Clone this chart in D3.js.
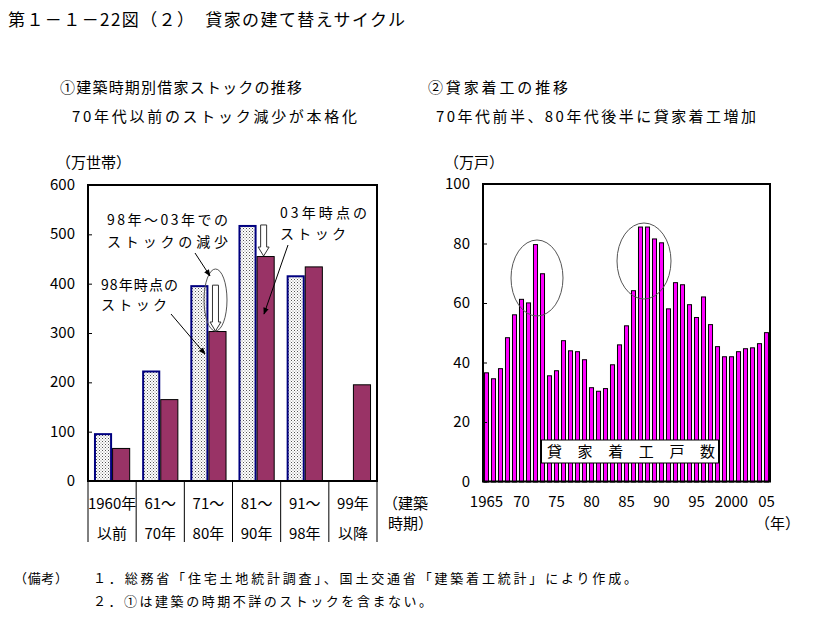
<!DOCTYPE html>
<html><head><meta charset="utf-8">
<script src="https://cdn.jsdelivr.net/npm/d3@7"></script>
<style>body{margin:0;background:#fff} text{font-family:"Noto Sans CJK JP","Noto Sans",sans-serif;fill:#000}</style>
</head><body><svg id="c" width="832" height="617"></svg>
<script>
// ---- data: left chart (建築時期別借家ストック, 万世帯)
const periodLine1 = ["1960年","61～","71～","81～","91～","99年"];
const periodLine2 = ["以前","70年","80年","90年","98年","以降"];
const stock1998 = [97, 224, 397, 519, 417, null];
const stock2003 = [67, 166, 304, 456, 435, 196];
const leftTicks = [0, 100, 200, 300, 400, 500, 600];

// ---- data: right chart (貸家着工戸数, 万戸)
const years = [1965,1966,1967,1968,1969,1970,1971,1972,1973,1974,1975,1976,1977,1978,1979,1980,
  1981,1982,1983,1984,1985,1986,1987,1988,1989,1990,1991,1992,1993,1994,1995,1996,1997,1998,1999,
  2000,2001,2002,2003,2004,2005];
const starts = [36.7,34.7,38.1,48.5,56.2,61.4,60.2,79.8,70.0,35.7,37.4,47.5,44.1,43.8,41.1,31.7,
  30.5,31.4,39.4,46.1,52.5,64.3,85.7,85.7,81.7,80.4,58.2,67.0,66.3,59.6,55.3,62.2,52.9,45.5,42.1,
  42.1,43.8,44.8,45.1,46.5,50.2];
const rightTicks = [0, 20, 40, 60, 80, 100];
const yearTicks = [1965,1970,1975,1980,1985,1990,1995,2000,2005];
const yearTickLabels = ["1965","70","75","80","85","90","95","2000","05"];

const svg = d3.select("#c");
function txt(x, y, s, opt = {}) {
  const t = svg.append("text").attr("x", x).attr("y", y).text(s)
    .attr("font-size", opt.size || 14)
    .attr("text-anchor", opt.anchor || "start");
  if (opt.len) t.attr("textLength", opt.len).attr("lengthAdjust", "spacing");
  return t;
}

// pattern for 1998 bars
const defs = svg.append("defs");
const pat = defs.append("pattern").attr("id", "dots").attr("patternUnits", "userSpaceOnUse")
  .attr("width", 3).attr("height", 3);
pat.append("rect").attr("width", 3).attr("height", 3).attr("fill", "#fff");
pat.append("rect").attr("x", 0).attr("y", 0).attr("width", 1).attr("height", 1).attr("fill", "#555");
pat.append("rect").attr("x", 1.5).attr("y", 1.5).attr("width", 1).attr("height", 1).attr("fill", "#888");
defs.append("marker").attr("id", "ah").attr("viewBox", "0 0 10 10").attr("refX", 9).attr("refY", 5)
  .attr("markerWidth", 7).attr("markerHeight", 7).attr("orient", "auto")
  .append("path").attr("d", "M0,1 L10,5 L0,9 Z").attr("fill", "#000");

// ---- titles
txt(8, 26, "第１－１－22図（２）　貸家の建て替えサイクル", {size: 17, len: 397});
txt(60, 93, "①建築時期別借家ストックの推移", {size: 15, len: 242});
txt(72, 122, "70年代以前のストック減少が本格化", {size: 15, len: 285});
txt(428, 93, "②貸家着工の推移", {size: 15, len: 140});
txt(436, 122, "70年代前半、80年代後半に貸家着工増加", {size: 15, len: 320});

// ---- left chart
const L = {x0: 88, x1: 377, y0: 481, y1: 185};
const xL = d3.scaleBand().domain(periodLine1).range([L.x0, L.x1]);
const xL2 = d3.scaleBand().domain(["1998", "2003"]).range([0, xL.bandwidth()]).paddingOuter(0.33);
const yL = d3.scaleLinear().domain([0, 600]).range([L.y0, L.y1]);

periodLine1.forEach((p, i) => {
  if (stock1998[i] != null) {
    svg.append("rect").attr("x", xL(p) + xL2("1998") + 1).attr("y", yL(stock1998[i]) + 1)
      .attr("width", xL2.bandwidth() - 2).attr("height", yL(0) - yL(stock1998[i]) - 1)
      .attr("fill", "url(#dots)").attr("stroke", "#000080").attr("stroke-width", 2);
  }
  if (stock2003[i] != null) {
    svg.append("rect").attr("x", xL(p) + xL2("2003") + 0.5).attr("y", yL(stock2003[i]) + 0.5)
      .attr("width", xL2.bandwidth() - 1).attr("height", yL(0) - yL(stock2003[i]))
      .attr("fill", "#993366").attr("stroke", "#000").attr("stroke-width", 1);
  }
});

// frame + axis
const yAxL = svg.append("g").attr("transform", `translate(${L.x0},0)`)
  .call(d3.axisRight(yL).tickValues(leftTicks).tickSize(4).tickFormat(""));
yAxL.select(".domain").remove();
yAxL.selectAll("line").attr("stroke", "#000");
leftTicks.forEach(v => txt(L.x0 - 13, yL(v) + 5, String(v), {size: 15, anchor: "end"}));
svg.append("rect").attr("x", L.x0).attr("y", L.y1).attr("width", L.x1 - L.x0).attr("height", L.y0 - L.y1)
  .attr("fill", "none").attr("stroke", "#000").attr("stroke-width", 2);
// category dividers below axis
const bounds = periodLine1.map(p => xL(p)).concat([L.x1]);
bounds.forEach(bx => svg.append("line").attr("x1", bx).attr("x2", bx).attr("y1", L.y0).attr("y2", 542)
  .attr("stroke", "#000").attr("stroke-width", 1));
periodLine1.forEach((p, i) => {
  const cx = xL(p) + xL.bandwidth() / 2;
  txt(cx, 509, p, {size: 15, anchor: "middle"});
  txt(cx, 539, periodLine2[i], {size: 15, anchor: "middle"});
});
txt(383, 509, "（建築", {size: 15});
txt(388, 529, "時期）", {size: 15});
txt(56, 168, "（万世帯）", {size: 15});

// hollow down arrows (decrease from 1998 to 2003)
function hollowArrow(cx, yTop, yBot, sw, hw, hl) {
  const d = `M${cx - sw},${yTop} L${cx + sw},${yTop} L${cx + sw},${yBot - hl} L${cx + hw},${yBot - hl} L${cx},${yBot} L${cx - hw},${yBot - hl} L${cx - sw},${yBot - hl} Z`;
  svg.append("path").attr("d", d).attr("fill", "#fff").attr("stroke", "#333").attr("stroke-width", 1);
}
[2, 3].forEach(i => {
  const p = periodLine1[i];
  const cx = xL(p) + xL2("2003") + xL2.bandwidth() / 2 - 2;
  hollowArrow(cx, yL(stock1998[i]), yL(stock2003[i]), 3, 5.5, 9);
});
// ellipse around 71~ arrow
svg.append("ellipse").attr("cx", 215.5).attr("cy", 300).attr("rx", 11.5).attr("ry", 31)
  .attr("fill", "none").attr("stroke", "#555").attr("stroke-width", 1);
// annotations
txt(107, 225, "98年～03年での", {size: 14, len: 121});
txt(107, 247, "ストックの減少", {size: 14, len: 121});
txt(101, 290, "98年時点の", {size: 14, len: 77});
txt(101, 310, "ストック", {size: 14, len: 66});
txt(280, 218, "03年時点の", {size: 14, len: 87});
txt(280, 239, "ストック", {size: 14, len: 66});
[[195, 253, 210, 276], [171, 314, 205, 354], [288, 245, 264, 314]].forEach(a =>
  svg.append("line").attr("x1", a[0]).attr("y1", a[1]).attr("x2", a[2]).attr("y2", a[3])
    .attr("stroke", "#000").attr("stroke-width", 1).attr("marker-end", "url(#ah)"));

// ---- right chart
const R = {x0: 483, x1: 770, y0: 481.5, y1: 184};
const xR = d3.scaleBand().domain(years).range([R.x0, R.x1]).paddingInner(0.28).paddingOuter(0.14);
const yR = d3.scaleLinear().domain([0, 100]).range([R.y0, R.y1]);
svg.append("g").selectAll("rect").data(years).join("rect")
  .attr("x", (d) => xR(d) + 0.5).attr("y", (d, i) => yR(starts[i]) + 0.5)
  .attr("width", xR.bandwidth() - 1).attr("height", (d, i) => R.y0 - yR(starts[i]))
  .attr("fill", "#ff00ff").attr("stroke", "#000").attr("stroke-width", 1);
const yAxR = svg.append("g").attr("transform", `translate(${R.x0},0)`)
  .call(d3.axisRight(yR).tickValues(rightTicks).tickSize(4).tickFormat(""));
yAxR.select(".domain").remove();
yAxR.selectAll("line").attr("stroke", "#000");
rightTicks.forEach(v => txt(R.x0 - 13, yR(v) + 5, String(v), {size: 15, anchor: "end"}));
svg.append("rect").attr("x", R.x0).attr("y", R.y1).attr("width", R.x1 - R.x0).attr("height", R.y0 - R.y1)
  .attr("fill", "none").attr("stroke", "#000").attr("stroke-width", 2);
yearTicks.forEach((yv, i) => txt(xR(yv) + xR.bandwidth() / 2, 507, yearTickLabels[i], {size: 15, anchor: "middle"}));
txt(755, 529, "（年）", {size: 15});
txt(444, 168, "（万戸）", {size: 15});
// ellipses on peaks
svg.append("ellipse").attr("cx", 537).attr("cy", 278).attr("rx", 26).attr("ry", 38)
  .attr("fill", "none").attr("stroke", "#555").attr("stroke-width", 1);
svg.append("ellipse").attr("cx", 644).attr("cy", 261).attr("rx", 27).attr("ry", 38)
  .attr("fill", "none").attr("stroke", "#555").attr("stroke-width", 1);
// series label box
svg.append("rect").attr("x", 541.5).attr("y", 440).attr("width", 177).attr("height", 23)
  .attr("fill", "#fff").attr("stroke", "#000").attr("stroke-width", 1);
txt(547, 457, "貸家着工戸数", {size: 15, len: 168});

// ---- notes
txt(14, 583, "（備考）", {size: 13, len: 54});
txt(93, 583, "１．総務省「住宅土地統計調査」、国土交通省「建築着工統計」により作成。", {size: 13, len: 544});
txt(93, 606, "２．①は建築の時期不詳のストックを含まない。", {size: 13, len: 339});
</script></body></html>
